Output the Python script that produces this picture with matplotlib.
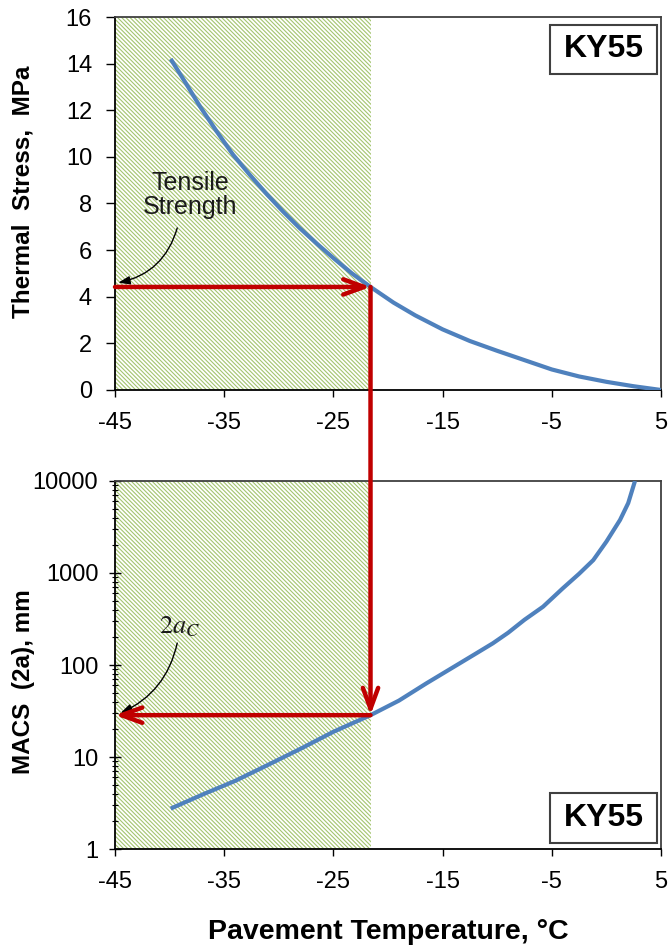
import matplotlib
matplotlib.use("Agg")
import matplotlib.pyplot as plt
from matplotlib.patches import ConnectionPatch, Rectangle
from matplotlib.ticker import FixedLocator, FuncFormatter, LogLocator

plt.rcParams['font.family'] = ['Liberation Sans', 'DejaVu Sans']
plt.rcParams['hatch.linewidth'] = 0.8
plt.rcParams['axes.unicode_minus'] = False

# thermal stress curve (top)
temp_stress = [-39.9, -38.5, -37.2, -35.7, -34.2, -32.6, -31.1, -29.6, -28.1, -26.5, -25.0, -23.3,
               -21.6, -19.5, -17.5, -15.0, -12.5, -10.0, -7.5, -5.0, -2.5, 0.0, 2.5, 5.0]
stress = [14.2, 13.15, 12.15, 11.1, 10.1, 9.2, 8.4, 7.65, 6.95, 6.27, 5.66, 5.0,
          4.42, 3.75, 3.2, 2.6, 2.1, 1.68, 1.28, 0.88, 0.58, 0.35, 0.16, 0.0]

# MACS curve (bottom)
temp_macs = [-39.9, -37.0, -34.0, -31.0, -28.0, -25.0, -21.6, -19.0, -16.5, -14.0, -12.0,
             -10.4, -9.0, -7.5, -5.8, -4.0, -2.5, -1.2, 0.0, 1.25, 2.0, 2.62]
macs = [2.75, 3.9, 5.5, 8.2, 12.3, 18.8, 28.5, 41, 63, 95, 132,
        172, 224, 310, 430, 680, 980, 1380, 2190, 3770, 5750, 10000]

# critical point
t_crit = -21.6
tensile_strength = 4.42
macs_crit = 28.5

x_ticks = [-45, -35, -25, -15, -5, 5]
stress_ticks = [0, 2, 4, 6, 8, 10, 12, 14, 16]
macs_ticks = [1, 10, 100, 1000, 10000]

blue = '#4F81BD'
red = '#C00000'
hatch_col = '#a3c46f'
spine_col = '#404040'
text_col = '#1a1a1a'

fig = plt.figure(figsize=(6.69, 9.5), dpi=100)
ax1 = fig.add_axes([0.1719, 0.5895, 0.8161, 0.3926])
ax2 = fig.add_axes([0.1719, 0.1063, 0.8161, 0.3874])

red_head = '->, head_length=1.5, head_width=0.55'

for ax in (ax1, ax2):
    ax.axvspan(-45, t_crit, facecolor='white', edgecolor=hatch_col, hatch='\\' * 8, lw=0, zorder=0)
    ax.set_xlim(-45, 5)
    ax.xaxis.set_major_locator(FixedLocator(x_ticks))
    ax.tick_params(axis='x', direction='out', length=5, width=1, pad=11, labelsize=17, color='black')
    ax.tick_params(axis='y', labelsize=17)
    for s in ax.spines.values():
        s.set_color(spine_col)
        s.set_linewidth(1.3)
    ax.spines['left'].set_color('black')
    ax.spines['bottom'].set_color('black')

# top panel
ax1.plot(temp_stress, stress, color=blue, lw=3, solid_capstyle='butt', zorder=3)
ax1.set_ylim(0, 16)
ax1.yaxis.set_major_locator(FixedLocator(stress_ticks))
ax1.tick_params(axis='y', direction='out', length=6.5, width=1, pad=10)
ax1.set_ylabel('Thermal  Stress,  MPa', fontsize=17.5, fontweight='bold')
ax1.yaxis.set_label_coords(-0.147, 0.53)
ax1.annotate('', xy=(t_crit, tensile_strength), xytext=(-45, tensile_strength),
             arrowprops=dict(arrowstyle=red_head, color=red, lw=3.2,
                             shrinkA=0, shrinkB=0), zorder=4)
ax1.text(-38.1, 8.37, 'Tensile\nStrength', ha='center', va='center', fontsize=18,
         color=text_col, linespacing=1.0)
ax1.annotate('', xy=(-44.7, 4.6), xytext=(-39.3, 6.95),
             arrowprops=dict(arrowstyle='-|>, head_length=0.7, head_width=0.25', color='black', lw=1.0,
                             connectionstyle='arc3,rad=-0.3', shrinkA=0, shrinkB=0))
ax1.add_patch(Rectangle((0.797, 0.847), 0.196, 0.1316, transform=ax1.transAxes, facecolor='white',
                        edgecolor=spine_col, lw=1.5, zorder=5))
ax1.text(0.895, 0.913, 'KY55', transform=ax1.transAxes, ha='center', va='center', fontsize=23,
         fontweight='bold', zorder=6)

# bottom panel
ax2.plot(temp_macs, macs, color=blue, lw=3, solid_capstyle='butt', zorder=3)
ax2.set_yscale('log')
ax2.set_ylim(1, 10000)
ax2.yaxis.set_major_locator(FixedLocator(macs_ticks))
ax2.yaxis.set_major_formatter(FuncFormatter(lambda v, p: '%d' % v))
ax2.yaxis.set_minor_locator(LogLocator(base=10, subs=range(2, 10)))
ax2.yaxis.set_minor_formatter(FuncFormatter(lambda v, p: ''))
ax2.tick_params(axis='y', which='major', direction='inout', length=8, width=1, pad=8)
ax2.tick_params(axis='y', which='minor', direction='inout', length=5, width=0.8)
ax2.set_ylabel('MACS  (2a), mm', fontsize=17.5, fontweight='bold')
ax2.yaxis.set_label_coords(-0.147, 0.455)
ax2.set_xlabel('Pavement Temperature, °C', fontsize=20.5, fontweight='bold')
ax2.xaxis.set_label_coords(0.5, -0.2255)
ax2.xaxis.label.set_va('center')
ax2.annotate('', xy=(-45, macs_crit), xytext=(t_crit, macs_crit),
             arrowprops=dict(arrowstyle=red_head, color=red, lw=3.2,
                             shrinkA=0, shrinkB=0), zorder=4)
ax2.text(-39.1, 259, r'$\mathit{2a}_C$', ha='center', va='center', fontsize=19, color=text_col,
         math_fontfamily='stix')
ax2.annotate('', xy=(-44.5, 30), xytext=(-39.3, 173),
             arrowprops=dict(arrowstyle='-|>, head_length=0.7, head_width=0.25', color='black', lw=1.0,
                             connectionstyle='arc3,rad=-0.25', shrinkA=0, shrinkB=0))
ax2.add_patch(Rectangle((0.797, 0.0163), 0.196, 0.136, transform=ax2.transAxes, facecolor='white',
                        edgecolor=spine_col, lw=1.5, zorder=5))
ax2.text(0.895, 0.084, 'KY55', transform=ax2.transAxes, ha='center', va='center', fontsize=23,
         fontweight='bold', zorder=6)

# vertical arrow linking both panels
con = ConnectionPatch(xyA=(t_crit, tensile_strength), coordsA=ax1.transData,
                      xyB=(t_crit, macs_crit), coordsB=ax2.transData,
                      arrowstyle=red_head, color=red, lw=3.2,
                      shrinkA=0, shrinkB=0, zorder=5)
fig.add_artist(con)

fig.savefig('out.png', dpi=100)
